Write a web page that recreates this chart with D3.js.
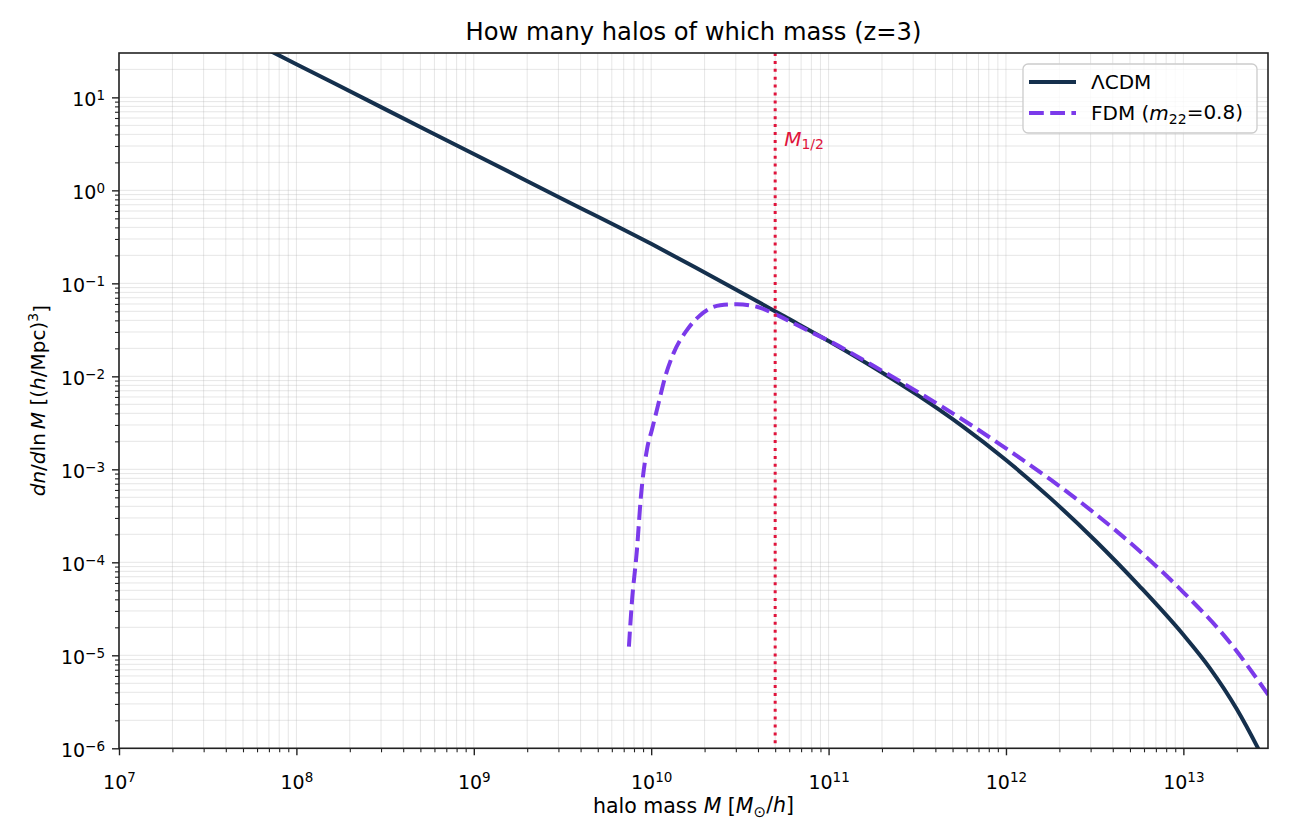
<!DOCTYPE html>
<html>
<head>
<meta charset="utf-8">
<script src="https://cdn.jsdelivr.net/npm/d3@7"></script>
<style>
  body { margin: 0; background: #fff; }
  svg text { font-family: "DejaVu Sans", sans-serif; fill: #000; }
</style>
</head>
<body>
<svg id="chart" width="1290" height="840"></svg>
<script>
// halo mass function at z=3 (M in Msun/h, n in (h/Mpc)^3)
const massCDM = [6.31e7, 1e8, 3.16e8, 1e9, 3.16e9, 1e10, 1.778e10, 3.162e10, 5.623e10,
  1e11, 1.778e11, 3.162e11, 5.623e11, 1e12, 1.778e12, 3.162e12, 5.623e12, 1e13, 1.413e13, 1.995e13, 2.63e13, 3.16e13];
const dndlnmCDM = [35.5, 22.75, 7.48, 2.46, 0.809, 0.266, 0.148, 0.0813, 0.0442,
  0.0240, 0.0126, 6.31e-3, 2.95e-3, 1.26e-3, 4.90e-4, 1.74e-4, 5.62e-5, 1.66e-5, 7.24e-6, 2.66e-6, 1.01e-6, 5.0e-7];

const massFDM = [7.49e9, 7.78e9, 8.31e9, 8.75e9, 9.50e9, 1.009e10, 1.10e10, 1.20e10, 1.336e10,
  1.59e10, 1.89e10, 2.45e10, 3.04e10, 3.95e10, 4.89e10, 6.35e10, 8.23e10, 1e11,
  1.778e11, 3.162e11, 5.623e11, 1e12, 1.778e12, 3.162e12, 5.623e12, 1e13, 1.778e13, 3.02e13];
const dndlnmFDM = [1.24e-5, 3.65e-5, 1.355e-4, 5.07e-4, 1.69e-3, 2.65e-3, 5.13e-3, 9.91e-3, 0.01766,
  0.0314, 0.0455, 0.0582, 0.0596, 0.0560, 0.0475, 0.0372, 0.0290, 0.0242,
  0.01306, 6.85e-3, 3.48e-3, 1.68e-3, 7.78e-4, 3.37e-4, 1.34e-4, 4.76e-5, 1.466e-5, 3.72e-6];

const mHalf = 5e10;
const xTickExp = [7, 8, 9, 10, 11, 12, 13];
const yTickExp = [-6, -5, -4, -3, -2, -1, 0, 1];

const seriesNames = ["ΛCDM", "FDM"];
const colors = { cdm: "#15304d", fdm: "#7b3aea", half: "#e0143c" };

const plotLeft = 119, plotRight = 1268, plotTop = 53, plotBottom = 748.3;

const svg = d3.select("#chart");

const x = d3.scaleLog().domain([1e7, 3e13]).range([plotLeft, plotRight]);
const y = d3.scaleLog().domain([1e-6, 30]).range([plotBottom, plotTop]);

// minor tick values 2..9 per decade inside the domain
function minorTicks(scale) {
  const [a, b] = scale.domain();
  const out = [];
  for (let e = Math.floor(Math.log10(a)); e <= Math.ceil(Math.log10(b)); e++) {
    for (let k = 2; k <= 9; k++) {
      const v = k * Math.pow(10, e);
      if (v > a && v < b) out.push(v);
    }
  }
  return out;
}
const xMinor = minorTicks(x), yMinor = minorTicks(y);
const xMajor = xTickExp.map(e => Math.pow(10, e));
const yMajor = yTickExp.map(e => Math.pow(10, e));

//Grid, both major and minor
const grid = svg.append("g").attr("stroke", "#b0b0b0").attr("stroke-opacity", 0.32).attr("stroke-width", 1);
grid.selectAll(".gx").data(xMajor.concat(xMinor)).enter().append("line")
  .attr("x1", d => x(d)).attr("x2", d => x(d)).attr("y1", plotTop).attr("y2", plotBottom);
grid.selectAll(".gy").data(yMajor.concat(yMinor)).enter().append("line")
  .attr("x1", plotLeft).attr("x2", plotRight).attr("y1", d => y(d)).attr("y2", d => y(d));

// plot area clip
svg.append("clipPath").attr("id", "clip").append("rect")
  .attr("x", plotLeft).attr("y", plotTop).attr("width", plotRight - plotLeft).attr("height", plotBottom - plotTop);

const line = d3.line().x(d => x(d[0])).y(d => y(d[1])).curve(d3.curveMonotoneX);

const plot = svg.append("g").attr("clip-path", "url(#clip)");

plot.append("path")
  .attr("d", line(d3.zip(massCDM, dndlnmCDM)))
  .attr("fill", "none").attr("stroke", colors.cdm).attr("stroke-width", 4);

plot.append("path")
  .attr("d", line(d3.zip(massFDM, dndlnmFDM)))
  .attr("fill", "none").attr("stroke", colors.fdm).attr("stroke-width", 4)
  .attr("stroke-dasharray", "14.8,6.4");

plot.append("line")
  .attr("x1", x(mHalf)).attr("x2", x(mHalf)).attr("y1", plotTop).attr("y2", plotBottom)
  .attr("stroke", colors.half).attr("stroke-width", 3).attr("stroke-dasharray", "3,4.9");

const halfLabel = svg.append("text").attr("x", x(mHalf) + 9).attr("y", 146)
  .attr("font-size", 20).style("fill", colors.half);
halfLabel.append("tspan").attr("font-style", "italic").style("fill", colors.half).text("M");
halfLabel.append("tspan").attr("dy", "0.22em").attr("font-size", 14).style("fill", colors.half).text("1/2");

//Axes
function sup(sel) {
  sel.selectAll(".tick text").each(function (d) {
    const t = d3.select(this);
    t.text(null);
    t.append("tspan").text("10");
    const e = Math.round(Math.log10(d));
    t.append("tspan").attr("dy", "-0.5em").attr("font-size", 13.5)
      .text(e < 0 ? "\u2212" + (-e) : String(e));
  });
}

const gx = svg.append("g").attr("transform", `translate(0,${plotBottom})`)
  .call(d3.axisBottom(x).tickValues(xMajor).tickSize(7).tickPadding(6).tickFormat(() => ""));
gx.call(sup);
gx.selectAll(".tick text").attr("font-size", 19).attr("dy", "1.45em").attr("font-family", null);
const gxm = svg.append("g").attr("transform", `translate(0,${plotBottom})`)
  .call(d3.axisBottom(x).tickValues(xMinor).tickSize(4).tickFormat(() => ""));

const gy = svg.append("g").attr("transform", `translate(${plotLeft},0)`)
  .call(d3.axisLeft(y).tickValues(yMajor).tickSize(7).tickPadding(7).tickFormat(() => ""));
gy.call(sup);
gy.selectAll(".tick text").attr("font-size", 19).attr("dy", "0.45em").attr("font-family", null);
const gym = svg.append("g").attr("transform", `translate(${plotLeft},0)`)
  .call(d3.axisLeft(y).tickValues(yMinor).tickSize(4).tickFormat(() => ""));

[gx, gxm, gy, gym].forEach(g => {
  g.select(".domain").remove();
  g.selectAll(".tick line").attr("stroke", "#222").attr("stroke-width", 1.4);
});
[gxm, gym].forEach(g => g.selectAll(".tick line").attr("stroke-width", 1.1));

// spines
svg.append("rect").attr("x", plotLeft).attr("y", plotTop)
  .attr("width", plotRight - plotLeft).attr("height", plotBottom - plotTop)
  .attr("fill", "none").attr("stroke", "#222").attr("stroke-width", 1.6);

// title and labels
svg.append("text").attr("x", (plotLeft + plotRight) / 2).attr("y", 40)
  .attr("text-anchor", "middle").attr("font-size", 24.2)
  .text("How many halos of which mass (z=3)");

const xl = svg.append("text").attr("x", (plotLeft + plotRight) / 2).attr("y", 813)
  .attr("text-anchor", "middle").attr("font-size", 20.5);
xl.append("tspan").text("halo mass ");
xl.append("tspan").attr("font-style", "italic").text("M");
xl.append("tspan").text(" [");
xl.append("tspan").attr("font-style", "italic").text("M");
xl.append("tspan").attr("dy", "0.25em").attr("font-size", 15).text("\u2299");
xl.append("tspan").attr("dy", "-0.25em").text("/");
xl.append("tspan").attr("font-style", "italic").text("h");
xl.append("tspan").text("]");

const yl = svg.append("text")
  .attr("transform", `translate(45,${(plotTop + plotBottom) / 2}) rotate(-90)`)
  .attr("text-anchor", "middle").attr("font-size", 20);
yl.append("tspan").attr("font-style", "italic").text("dn");
yl.append("tspan").text("/");
yl.append("tspan").attr("font-style", "italic").text("d");
yl.append("tspan").text("ln\u2009");
yl.append("tspan").attr("font-style", "italic").text("M");
yl.append("tspan").text(" [(");
yl.append("tspan").attr("font-style", "italic").text("h");
yl.append("tspan").text("/Mpc)");
yl.append("tspan").attr("dy", "-0.5em").attr("font-size", 14).text("3");
yl.append("tspan").attr("dy", "0.5em").text("]");

//Legend
const lg = svg.append("g").attr("transform", "translate(1023,64)");
lg.append("rect").attr("width", 234).attr("height", 69).attr("rx", 5)
  .attr("fill", "#fff").attr("fill-opacity", 0.8).attr("stroke", "#cccccc").attr("stroke-width", 1.3);
const rows = [
  { name: seriesNames[0], color: colors.cdm, dash: null },
  { name: seriesNames[1], color: colors.fdm, dash: "14.8,6.4" }
];
rows.forEach((r, i) => {
  const yy = 18 + i * 31;
  lg.append("line").attr("x1", 6).attr("x2", 53).attr("y1", yy).attr("y2", yy)
    .attr("stroke", r.color).attr("stroke-width", 4).attr("stroke-dasharray", r.dash);
  const t = lg.append("text").attr("x", 68).attr("y", yy + 7).attr("font-size", 20);
  if (i === 0) {
    t.text(r.name);
  } else {
    t.append("tspan").text(r.name + " (");
    t.append("tspan").attr("font-style", "italic").text("m");
    t.append("tspan").attr("dy", "0.25em").attr("font-size", 14).text("22");
    t.append("tspan").attr("dy", "-0.25em").text("=0.8)");
  }
});
</script>
</body>
</html>
